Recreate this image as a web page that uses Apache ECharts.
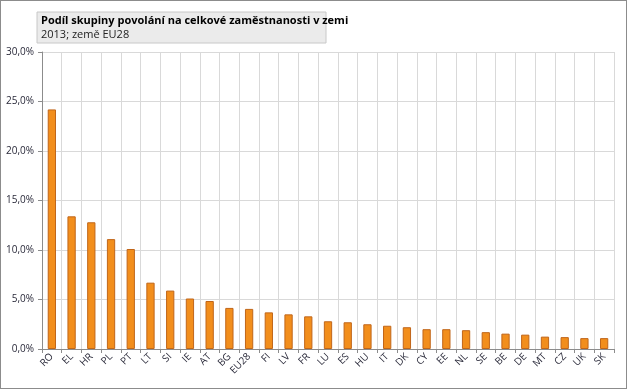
<!DOCTYPE html>
<html><head><meta charset="utf-8">
<script src="https://cdn.jsdelivr.net/npm/echarts@6/dist/echarts.min.js"></script>
<style>html,body{margin:0;padding:0;background:#fff}#c{width:625px;height:387px;border:1px solid #8c8c8c}</style>
</head><body><div id="c"></div>
<script>
const categories = ["RO","EL","HR","PL","PT","LT","SI","IE","AT","BG","EU28","FI","LV","FR","LU","ES","HU","IT","DK","CY","EE","NL","SE","BE","DE","MT","CZ","UK","SK"];
const values = [24.2,13.4,12.8,11.1,10.1,6.7,5.9,5.1,4.85,4.15,4.05,3.7,3.5,3.3,2.8,2.7,2.5,2.35,2.2,2.0,2.0,1.9,1.7,1.55,1.45,1.25,1.2,1.1,1.1];
const titleText = "Podíl skupiny povolání na celkové zaměstnanosti v zemi";
const subtitleText = "2013; země EU28";
const chart = echarts.init(document.getElementById('c'));
chart.setOption({
  animation:false,
  grid:{left:41,right:12,top:51,bottom:39},
  graphic:[
    {type:'rect',shape:{x:36,y:11,width:289,height:31},style:{fill:'#ebebeb',stroke:'#c8c8c8',lineWidth:1}},
    {type:'text',left:40,top:14,style:{text:titleText,font:'bold 11px "Open Sans", sans-serif',fill:'#000'}},
    {type:'text',left:40,top:28,style:{text:subtitleText,font:'11px "Open Sans", sans-serif',fill:'#222'}}
  ],
  xAxis:{type:'category',data:categories,boundaryGap:true,
    axisLine:{lineStyle:{color:'#8c8c8c'}},
    axisTick:{show:true,length:4,lineStyle:{color:'#8c8c8c'}},
    splitLine:{show:true,lineStyle:{color:'#d9d9d9'}},
    axisLabel:{rotate:45,interval:0,fontSize:10,color:'#2a2a3a',fontFamily:'"Open Sans", sans-serif',margin:6}},
  yAxis:{type:'value',min:0,max:30,interval:5,
    axisLine:{show:true,lineStyle:{color:'#8c8c8c'}},
    axisTick:{show:true,length:4,lineStyle:{color:'#8c8c8c'}},
    splitLine:{lineStyle:{color:'#d9d9d9'}},
    axisLabel:{fontSize:10,color:'#2a2a3a',fontFamily:'"Open Sans", sans-serif',margin:8,
      formatter:v=>v.toFixed(1).replace('.',',')+'%'}},
  series:[{type:'bar',data:values,barWidth:'42%',
    itemStyle:{color:'#f28e1c',borderColor:'#c0661a',borderWidth:1}}]
});
</script></body></html>
